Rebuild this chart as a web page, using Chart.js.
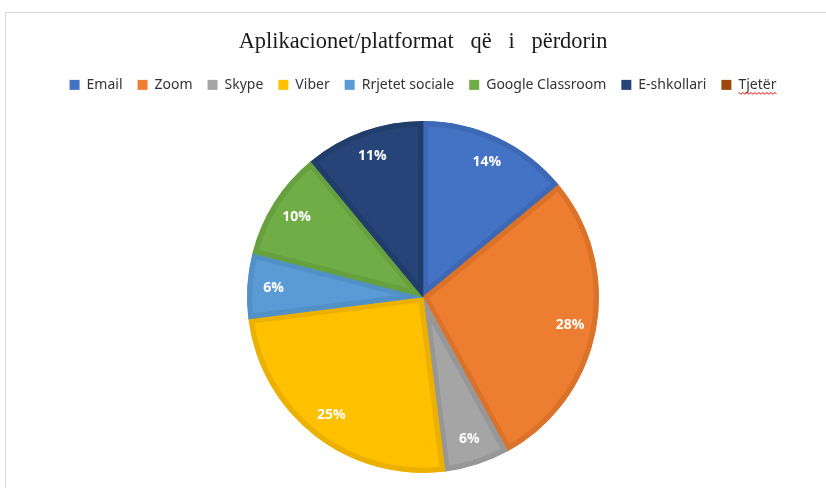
<!DOCTYPE html>
<html>
<head>
<meta charset="utf-8">
<script src="https://cdn.jsdelivr.net/npm/chart.js@4"></script>
<style>
  html, body { margin: 0; padding: 0; background: #fff; }
  #wrap { position: relative; width: 826px; height: 488px; overflow: hidden; }
  #frame { position: absolute; left: 5px; top: 12px; width: 900px; height: 600px;
           border-top: 1px solid #d9d9d9; border-left: 1px solid #d9d9d9; }
  canvas { position: absolute; left: 0; top: 0; }
</style>
</head>
<body>
<div id="wrap">
  <div id="frame"></div>
  <canvas id="pie" width="826" height="488"></canvas>
</div>
<script>
/* data */
const LABELS = ["Email", "Zoom", "Skype", "Viber", "Rrjetet sociale", "Google Classroom", "E-shkollari", "Tjetër"];
const SHARES = [14, 28, 6, 25, 6, 10, 11, 0];
const FILLS = ["#4472c4", "#ed7d31", "#a5a5a5", "#ffc000", "#5b9bd5", "#70ad47", "#264478", "#9e480e"];
const EDGES = ["#3d68b6", "#db7229", "#979797", "#ebb000", "#5290c8", "#66a03f", "#213d6c", "#8e400c"];

const LEGEND_FONT = 14;
const LEGEND_GAP = 19; // extra room under the legend row

// white % labels inside each slice
const sliceLabels = {
  id: "sliceLabels",
  beforeInit(chart) {
    const lg = chart.legend;
    const fit = lg.fit;
    lg.fit = function () {
      fit.call(lg);
      this.height += LEGEND_GAP;
    };
  },
  afterDatasetsDraw(chart) {
    const ctx = chart.ctx;
    const meta = chart.getDatasetMeta(0);
    ctx.save();
    ctx.fillStyle = "#fff";
    ctx.font = "bold 14px 'Open Sans', sans-serif";
    ctx.textAlign = "center";
    ctx.textBaseline = "middle";
    meta.data.forEach((arc, i) => {
      if (!SHARES[i]) return;
      const p = arc.getProps(["x", "y", "startAngle", "endAngle", "outerRadius"], true);
      const mid = (p.startAngle + p.endAngle) / 2;
      const r = p.outerRadius * 0.85;
      ctx.fillText(SHARES[i] + "%", p.x + Math.cos(mid) * r, p.y + Math.sin(mid) * r);
    });
    ctx.restore();
  },
  // the red spell-check squiggle under "Tjetër"
  afterDraw(chart) {
    const lg = chart.legend;
    if (!lg || !lg.legendHitBoxes) return;
    const hb = lg.legendHitBoxes[LABELS.length - 1];
    if (!hb) return;
    const ctx = chart.ctx;
    ctx.save();
    ctx.font = LEGEND_FONT + "px 'Noto Sans', sans-serif";
    const tx = hb.left + 10 + LEGEND_FONT / 2;
    const tw = ctx.measureText(LABELS[LABELS.length - 1]).width;
    const y = hb.top + hb.height + 1;
    ctx.strokeStyle = "#e02020";
    ctx.lineWidth = 1;
    ctx.beginPath();
    for (let x = 0; x <= tw; x += 1) {
      const yy = y + (Math.floor(x / 2) % 2 ? 1.2 : -0.2);
      if (x === 0) ctx.moveTo(tx + x, yy); else ctx.lineTo(tx + x, yy);
    }
    ctx.stroke();
    ctx.restore();
  },
};

new Chart(document.getElementById("pie"), {
  type: "pie",
  data: {
    labels: LABELS,
    datasets: [
      {
        data: SHARES,
        backgroundColor: FILLS,
        borderColor: EDGES,
        borderWidth: 5,
        borderAlign: "inner",
      },
    ],
  },
  options: {
    responsive: false,
    animation: false,
    layout: { padding: { left: 20, right: 0, top: 14, bottom: 15 } },
    plugins: {
      tooltip: { enabled: false },
      title: {
        display: true,
        text: "Aplikacionet/platformat   që   i   përdorin",
        color: "#1a1a1a",
        font: { family: "'Liberation Serif', 'Times New Roman', serif", size: 22.4, weight: "normal" },
        padding: { top: 15, bottom: 7 },
      },
      legend: {
        position: "top",
        labels: {
          boxWidth: 10,
          boxHeight: 10,
          padding: 15,
          color: "#333",
          font: { family: "'Noto Sans', sans-serif", size: LEGEND_FONT },
          generateLabels: () =>
            LABELS.map((l, i) => ({
              text: l,
              fillStyle: FILLS[i],
              strokeStyle: FILLS[i],
              lineWidth: 0,
              fontColor: "#333",
              hidden: false,
              index: i,
            })),
        },
      },
    },
  },
  plugins: [sliceLabels],
});
</script>
</body>
</html>
